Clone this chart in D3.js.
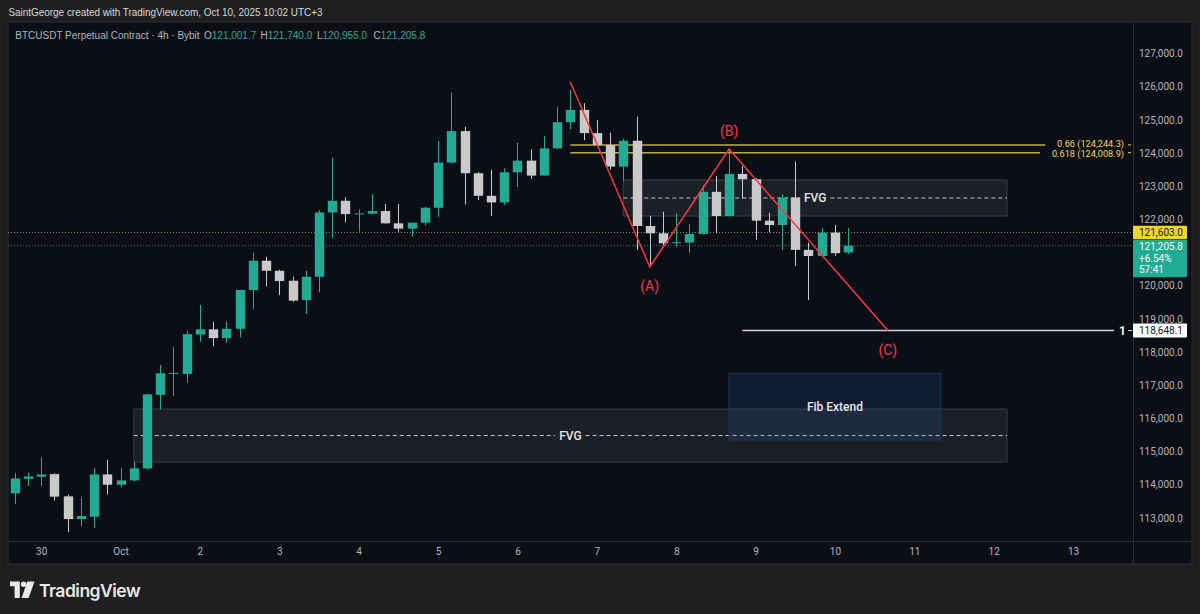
<!DOCTYPE html>
<html><head><meta charset="utf-8">
<script src="https://cdn.jsdelivr.net/npm/d3@7"></script>
<style>html,body{margin:0;padding:0;background:#1f1f1f;}svg{display:block;}</style>
</head><body><div id="chart"></div>
<script>
// ---- data (4h candles, index 0 = Sep 29 16:00 bar) ----
const opens  = [113740,114180,114240,114320,113650,112965,113035,114310,114000,114130,114490,116710,117350,117340,118530,118685,118420,118700,119870,120753,120450,120150,119570,120270,122210,122560,122160,122170,122250,121880,121720,121900,122350,123710,124660,123390,122710,122510,123420,123770,123320,124140,124930,125300,124600,124240,123590,124370,121800,121580,121280,121300,121560,122830,122100,123370,123210,121960,121830,122660,121080,120895,121600,121001.7];
const highs  = [114360,114370,114825,114340,113700,113620,114500,114745,114500,114690,116740,117610,118160,118640,119420,118915,118915,119880,120995,120875,120480,120270,120450,122280,123860,122660,122300,122755,122460,122460,121900,122380,124360,125820,124790,123420,123490,123540,124310,124110,124510,125380,125900,125500,125000,124610,124440,125095,122110,122230,122180,121860,123035,123310,124090,123610,123250,122200,122760,123740,121300,121730,121830,121740];
const lows   = [113420,113960,113960,113520,112580,112760,112700,113710,113920,114100,114450,116270,116670,117075,118310,118180,118280,118440,119290,119990,119720,119520,119150,119800,121430,121910,121630,122150,121870,121630,121480,121820,122080,123690,122450,122580,122100,122430,122980,123220,123300,124120,124715,124390,124190,123510,123165,121080,120570,121220,121175,120995,121540,121580,122080,122630,121380,121610,121080,120590,119570,120880,120900,120955];
const closes = [114190,114250,114310,113640,112965,113056,114310,114000,114130,114494,116725,117360,117370,118540,118685,118420,118700,119870,120753,120450,120140,119550,120270,122210,122560,122160,122180,122250,121880,121720,121900,122350,123710,124660,123390,122710,122510,123420,123770,123320,124140,124930,125300,124600,124240,123590,124370,121800,121580,121280,121310,121560,122830,122100,123370,123210,121960,121830,122660,121080,120895,121600,120980,121205.8];

// 121,000 is hidden behind the last-price tag in the reference
const priceTicks = [113000,114000,115000,116000,117000,118000,119000,120000,122000,123000,124000,125000,126000,127000];
const dayTickIndex  = [2,8,14,20,26,32,38,44,50,56,62,68,74,80];
const dayTickLabels = ["30","Oct","2","3","4","5","6","7","8","9","10","11","12","13"];

// ABC wave (bar index, price)
const waveIndex  = [42,48,54,66];
const wavePrice  = [126141,120563,124121,118648.1];
const waveLabels = ["","(A)","(B)","(C)"];

// fib levels
const fibRatios = ["0.66","0.618"];
const fibPrices = [124244.3,124008.9];
const fibStart = 42, fibEnd = [77.9,77.5];
const fibOneLabel = "1", fibOnePrice = 118648.1, fibOneStart = 55, fibOneEnd = 83.1;

// zones
const fvgStart  = [46, 9];
const fvgEnd    = [75, 75];
const fvgTop    = [123186, 116282];
const fvgBottom = [122101, 114684];
const fvgLabels = ["FVG","FVG"];
const fibExtStart = 54, fibExtEnd = 70, fibExtTop = 117358, fibExtBottom = 115347, fibExtLabel = "Fib Extend";

const lastPrice = 121205.8, markPrice = 121603.0, changePct = "+6.54%", countdown = "57:41";
const ohlcKeys = ["O","H","L","C"];

// ---- layout ----
const W = 1200, H = 614;
const panel = {l: 8, t: 22, r: 1192, b: 564};
const plot = {l: 8, t: 22, r: 1133, b: 541};
const UP = "#22ab94", DOWN = "#c9c9c9";

const svg = d3.select("#chart").append("svg").attr("width", W).attr("height", H)
  .style("font-family", "Roboto, 'Liberation Sans', sans-serif");
svg.append("rect").attr("width", W).attr("height", H).attr("fill", "#1f1f1f");
svg.append("rect").attr("x", panel.l).attr("y", panel.t).attr("width", panel.r - panel.l).attr("height", panel.b - panel.t)
  .attr("fill", "#0c0e15").attr("stroke", "#2b2e36").attr("stroke-width", 1);

const x = d3.scaleLinear().domain([0, 80]).range([14.7, 1073.1]);
const y = d3.scaleLinear().domain([113000, 127000]).range([517.9, 53.5]);

svg.append("clipPath").attr("id", "clip").append("rect")
  .attr("x", plot.l).attr("y", plot.t).attr("width", plot.r - plot.l).attr("height", plot.b - plot.t);
const g = svg.append("g").attr("clip-path", "url(#clip)");

// zones
fvgStart.forEach((s, k) => {
  const x0 = x(s), x1 = x(fvgEnd[k]), y0 = y(fvgTop[k]), y1 = y(fvgBottom[k]);
  g.append("rect").attr("x", x0).attr("y", y0).attr("width", x1 - x0).attr("height", y1 - y0)
    .attr("fill", "rgba(120,123,134,0.16)").attr("stroke", "#3b3e46").attr("stroke-width", 1);
  const ym = (y0 + y1) / 2, xm = (x0 + x1) / 2;
  const t = g.append("text").attr("x", xm).attr("y", ym).attr("dy", "0.36em").attr("text-anchor", "middle")
    .attr("fill", "#e6e6e6").attr("font-size", 12).attr("font-weight", 500).text(fvgLabels[k]);
  const tw = t.node().getComputedTextLength();
  [[x0, xm - tw / 2 - 4], [xm + tw / 2 + 4, x1]].forEach(([a, b]) => {
    g.append("line").attr("x1", a).attr("x2", b).attr("y1", ym).attr("y2", ym)
      .attr("stroke", "#c8c8c8").attr("stroke-dasharray", "4,3").attr("stroke-width", 1);
  });
});
{
  const x0 = x(fibExtStart), x1 = x(fibExtEnd), y0 = y(fibExtTop), y1 = y(fibExtBottom);
  g.append("rect").attr("x", x0).attr("y", y0).attr("width", x1 - x0).attr("height", y1 - y0)
    .attr("fill", "rgba(41,98,200,0.16)").attr("stroke", "#1d3565").attr("stroke-width", 1);
  g.append("text").attr("x", (x0 + x1) / 2).attr("y", (y0 + y1) / 2).attr("dy", "0.36em").attr("text-anchor", "middle")
    .attr("fill", "#e6e6e6").attr("font-size", 12).attr("font-weight", 500).text(fibExtLabel);
}

// price lines
g.append("line").attr("x1", plot.l).attr("x2", plot.r).attr("y1", y(markPrice)).attr("y2", y(markPrice))
  .attr("stroke", "#b9a63a").attr("stroke-opacity", 0.8).attr("stroke-dasharray", "1,2");
g.append("line").attr("x1", plot.l).attr("x2", plot.r).attr("y1", y(lastPrice)).attr("y2", y(lastPrice))
  .attr("stroke", UP).attr("stroke-opacity", 0.7).attr("stroke-dasharray", "1,2");

// fib lines
fibPrices.forEach((p, k) => {
  g.append("line").attr("x1", x(fibStart)).attr("x2", x(fibEnd[k])).attr("y1", y(p)).attr("y2", y(p))
    .attr("stroke", "#bcae45").attr("stroke-width", 1.5);
  g.append("text").attr("x", 1124).attr("y", y(p) + (k === 0 ? -0.8 : 0.8)).attr("dy", "0.34em").attr("text-anchor", "end")
    .attr("fill", "#efd84a").attr("font-size", 9.2).text(`${fibRatios[k]} (${d3.format(",.1f")(p)})`);
  g.append("line").attr("x1", 1128).attr("x2", 1131).attr("y1", y(p)).attr("y2", y(p)).attr("stroke", "#efd84a");
});
g.append("line").attr("x1", x(fibOneStart)).attr("x2", x(fibOneEnd)).attr("y1", y(fibOnePrice)).attr("y2", y(fibOnePrice))
  .attr("stroke", "#d0d0d0").attr("stroke-width", 1.5);
g.append("text").attr("x", 1126).attr("y", y(fibOnePrice)).attr("dy", "0.36em").attr("text-anchor", "end")
  .attr("fill", "#f0f0f0").attr("font-size", 12).attr("font-weight", 700).text(fibOneLabel);
g.append("line").attr("x1", 1128).attr("x2", 1132).attr("y1", y(fibOnePrice)).attr("y2", y(fibOnePrice)).attr("stroke", "#d0d0d0");

// candles
const idx = d3.range(opens.length);
const bw = 9.4;
const cg = g.append("g");
cg.selectAll("line.wick").data(idx).join("line")
  .attr("x1", i => Math.round(x(i)) + 0.5).attr("x2", i => Math.round(x(i)) + 0.5)
  .attr("y1", i => y(highs[i])).attr("y2", i => y(lows[i]))
  .attr("stroke", i => closes[i] >= opens[i] ? UP : DOWN).attr("stroke-width", 1);
cg.selectAll("rect.body").data(idx).join("rect")
  .attr("x", i => Math.round(x(i)) + 0.5 - bw / 2)
  .attr("y", i => y(Math.max(opens[i], closes[i])))
  .attr("width", bw)
  .attr("height", i => Math.max(1, Math.abs(y(opens[i]) - y(closes[i]))))
  .attr("fill", i => closes[i] >= opens[i] ? UP : DOWN);

// ABC wave
const wave = waveIndex.map((i, k) => [x(i), y(wavePrice[k])]);
g.append("path").attr("d", d3.line()(wave)).attr("fill", "none").attr("stroke", "#f23645").attr("stroke-width", 1.5);
waveLabels.forEach((lab, k) => {
  if (!lab) return;
  const dy = k === 2 ? -18 : 19;
  g.append("text").attr("x", wave[k][0]).attr("y", wave[k][1] + dy).attr("dy", "0.36em").attr("text-anchor", "middle")
    .attr("fill", "#f23645").attr("font-size", 14).text(lab);
});

// axes separators
svg.append("line").attr("x1", plot.r + 0.5).attr("x2", plot.r + 0.5).attr("y1", panel.t).attr("y2", panel.b).attr("stroke", "#2b2e36");
svg.append("line").attr("x1", panel.l).attr("x2", panel.r).attr("y1", plot.b + 0.5).attr("y2", plot.b + 0.5).attr("stroke", "#2b2e36");

// price axis
const yAxis = svg.append("g").attr("transform", `translate(${plot.r},0)`)
  .call(d3.axisRight(y).tickValues(priceTicks).tickSize(0).tickPadding(6).tickFormat(d3.format(",.1f")));
yAxis.select(".domain").remove();
yAxis.selectAll("text").attr("fill", "#b2b5be").attr("font-size", 10).attr("font-family", "Roboto, sans-serif");

// time axis
const xAxis = svg.append("g").attr("transform", `translate(0,${plot.b})`)
  .call(d3.axisBottom(x).tickValues(dayTickIndex).tickSize(0).tickPadding(7)
    .tickFormat((d, k) => dayTickLabels[k]));
xAxis.select(".domain").remove();
xAxis.selectAll("text").attr("fill", "#b2b5be").attr("font-size", 10).attr("font-family", "Roboto, sans-serif");

// price labels on axis
function tag(price, bg, fg, lines, h) {
  const yc = y(price);
  const top = lines.length > 1 ? yc - 6 : yc - h / 2;
  svg.append("rect").attr("x", plot.r).attr("y", top).attr("width", 54).attr("height", h).attr("fill", bg).attr("rx", 1);
  lines.forEach((t, k) => svg.append("text").attr("x", plot.r + 6).attr("y", top + 7 + k * 11.5).attr("dy", "0.34em")
    .attr("fill", fg).attr("font-size", 10).attr("font-family", "Roboto, sans-serif").text(t));
}
tag(markPrice, "#f2d626", "#131722", [d3.format(",.1f")(markPrice)], 13.5);
tag(lastPrice, UP, "#ffffff", [d3.format(",.1f")(lastPrice), changePct, countdown], 37.5);
tag(fibOnePrice, "#ffffff", "#131722", [d3.format(",.1f")(fibOnePrice)], 14);

// header + legend
svg.append("text").attr("x", 8.5).attr("y", 16).attr("fill", "#d8d8d8").attr("font-size", 11.5)
  .attr("font-family", "'Liberation Sans', sans-serif").attr("textLength", 314).attr("lengthAdjust", "spacingAndGlyphs")
  .text("SaintGeorge created with TradingView.com, Oct 10, 2025 10:02 UTC+3");
svg.append("text").attr("x", 15.3).attr("y", 39).attr("font-size", 10)
  .attr("font-family", "'Liberation Sans', sans-serif").attr("fill", "#b2b5be")
  .text("BTCUSDT Perpetual Contract · 4h · Bybit");
const ohlcArrays = [opens, highs, lows, closes];
ohlcKeys.forEach((k, j) => {
  const arr = ohlcArrays[j];
  const t = svg.append("text").attr("x", 204 + j * 56.5).attr("y", 39).attr("font-size", 10)
    .attr("font-family", "'Liberation Sans', sans-serif").attr("fill", "#b2b5be");
  t.append("tspan").text(k);
  t.append("tspan").attr("fill", UP).text(d3.format(",.1f")(arr[arr.length - 1]));
});

// TradingView logo
const logo = svg.append("g").attr("fill", "#e8e8e8");
logo.append("path").attr("d", "M10,581.5H19.8V598H14.6V586.3H10Z");
logo.append("circle").attr("cx", 23.6).attr("cy", 584.2).attr("r", 2.7);
logo.append("path").attr("d", "M27.2,581.5H34.5L28.6,598H21.6Z");
svg.append("text").attr("x", 39).attr("y", 596.5).attr("fill", "#e8e8e8").attr("font-size", 17.5).attr("font-weight", 600)
  .attr("font-family", "Inter, Roboto, sans-serif").attr("letter-spacing", -0.5).text("TradingView");
</script></body></html>
